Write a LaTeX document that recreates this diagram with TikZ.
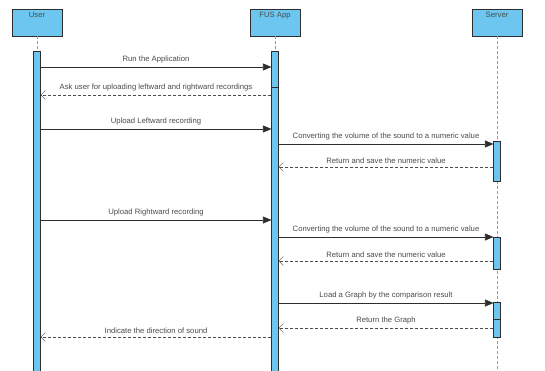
\documentclass[tikz,border=0pt]{standalone}
\usepackage{fontspec}
\setmainfont{Liberation Sans}
\usetikzlibrary{arrows.meta,positioning}
\definecolor{lifeblue}{RGB}{108,198,240}
\definecolor{ink}{RGB}{45,45,45}
\definecolor{msgtext}{RGB}{75,75,75}
\tikzset{
  head/.style={draw=ink, fill=lifeblue, minimum width=50pt, inner xsep=0pt, inner ysep=3pt,
               text height=5.5pt, text depth=15.5pt, anchor=north, text=msgtext,
               font=\fontsize{7.7}{9}\selectfont},
  actbar/.style={draw=ink, fill=lifeblue, minimum width=6.5pt, inner sep=0pt, anchor=north, semithick},
  lifeline/.style={draw=gray!80, dash pattern=on 3pt off 2pt},
  call/.style={-{Triangle[length=8.5pt,width=7pt]}, draw=ink, semithick},
  reply/.style={-{Straight Barb[length=4.5pt,width=9pt]}, draw=ink!85, dash pattern=on 3pt off 2pt},
  msg/.style={midway, above=3.5pt, inner sep=0pt, text=msgtext, font=\fontsize{7.7}{9}\selectfont},
}

\begin{document}
\begin{tikzpicture}[x=1pt,y=-1pt]
  \useasboundingbox (0,0) rectangle (545,370);

  % participants
  \node[head] (user)   at (37,9)  {User};
  \node[head] (app)    at (275,9) {FUS App};
  \node[head] (server) at (497,9) {Server};

  % lifelines
  \draw[lifeline] (user.south)   -- ++(0,16);
  \draw[lifeline] (app.south)    -- ++(0,16);
  \draw[lifeline] (server.south) -- (server.south |- 0,370);

  % activation bars
  \node[actbar, minimum height=320pt] (ubar)  at (37,51)  {};
  \node[actbar, minimum height=320pt] (abar)  at (275,51) {};
  \node[actbar, minimum height=40pt]  (sbar1) at (497,141) {};
  \node[actbar, minimum height=32pt]  (sbar2) at (497,237) {};
  \node[actbar, minimum height=35pt]  (sbar3) at (497,302) {};
  \draw[ink] (abar.west |- 0,87) -- (abar.east |- 0,87);
  \draw[ink] (sbar3.west |- 0,319) -- (sbar3.east |- 0,319);

  % messages
  \draw[call]  (ubar.east |- 0,67)   -- (abar.west |- 0,67)   node[msg] {Run the Application};
  \draw[reply] (abar.west |- 0,95)   -- (ubar.east |- 0,95)   node[msg] {Ask user for uploading leftward and rightward recordings};
  \draw[call]  (ubar.east |- 0,129)  -- (abar.west |- 0,129)  node[msg] {Upload Leftward recording};
  \draw[call]  (abar.east |- 0,144)  -- (sbar1.west |- 0,144) node[msg] {Converting the volume of the sound to a numeric value};
  \draw[reply] (sbar1.west |- 0,167) -- (abar.east |- 0,167)  node[msg] {Return and save the numeric value};
  \draw[call]  (ubar.east |- 0,220)  -- (abar.west |- 0,220)  node[msg] {Upload Rightward recording};
  \draw[call]  (abar.east |- 0,237)  -- (sbar2.west |- 0,237) node[msg] {Converting the volume of the sound to a numeric value};
  \draw[reply] (sbar2.west |- 0,261) -- (abar.east |- 0,261)  node[msg] {Return and save the numeric value};
  \draw[call]  (abar.east |- 0,303)  -- (sbar3.west |- 0,303) node[msg] {Load a Graph by the comparison result};
  \draw[reply] (sbar3.west |- 0,328) -- (abar.east |- 0,328)  node[msg] {Return the Graph};
  \draw[reply] (abar.west |- 0,337)  -- (ubar.east |- 0,337)  node[msg] {Indicate the direction of sound};
\end{tikzpicture}
\end{document}
